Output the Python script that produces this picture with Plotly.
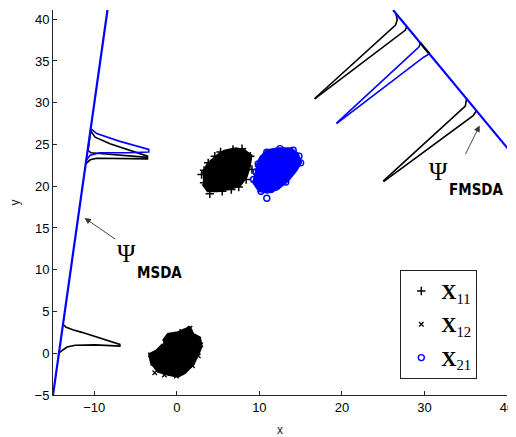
import plotly.graph_objects as go

# ---------------- data ----------------
# projection line of MSDA (left) and FMSDA (right)
msda_line_x = [-15.0, -8.4]
msda_line_y = [-5.0, 41.1]
fmsda_line_x = [26.2, 40.1]
fmsda_line_y = [41.1, 24.5]

# densities drawn along the MSDA line
msda_low_black_x = [-13.79, -13.4, -12.6, -11.5, -6.9, -6.9, -9.9, -12.3, -13.3, -13.9, -14.28]
msda_low_black_y = [3.47, 3.1, 2.8, 2.5, 1.06, 0.86, 1.0, 0.95, 0.74, 0.35, 0.06]
msda_up_black1_x = [-10.47, -9.9, -8.1, -3.55, -3.55, -9.7, -10.5, -11.04]
msda_up_black1_y = [26.67, 25.87, 25.08, 23.6, 23.28, 23.35, 23.16, 22.68]
msda_up_black2_x = [-10.40, -10.55, -10.75, -10.4, -7.0, -3.55]
msda_up_black2_y = [26.9, 25.6, 24.3, 24.0, 23.7, 23.45]
msda_up_blue_x = [-10.43, -10.0, -9.7, -7.0, -3.4, -3.4, -6.0, -9.3, -10.5, -10.97]
msda_up_blue_y = [26.9, 26.5, 26.3, 25.4, 24.4, 24.1, 24.0, 24.0, 23.7, 23.1]

# densities drawn along the FMSDA line
fmsda_black_a_x = [26.55, 26.7, 26.5, 16.7]
fmsda_black_a_y = [40.68, 39.9, 39.3, 30.5]
fmsda_black_b_x = [27.85, 27.7, 16.7]
fmsda_black_b_y = [39.13, 38.7, 30.45]
fmsda_black_seg_x = [29.5, 30.6]
fmsda_black_seg_y = [37.16, 35.85]
fmsda_blue_a_x = [29.5, 29.35, 19.35]
fmsda_blue_a_y = [37.16, 36.7, 27.55]
fmsda_blue_b_x = [30.6, 29.9, 19.35]
fmsda_blue_b_y = [35.85, 35.45, 27.5]
fmsda_black_c_x = [35.1, 34.95, 25.0]
fmsda_black_c_y = [30.47, 29.6, 20.6]
fmsda_black_d_x = [36.3, 35.9, 25.05]
fmsda_black_d_y = [29.04, 28.45, 20.55]

# sample clouds: outline of each dense cloud plus visible edge points
x11_x = [3.16, 3.76, 4.96, 5.76, 7.17, 8.17, 8.98, 8.77, 8.37, 7.57, 6.17, 4.96, 3.76, 3.16]
x11_y = [21.48, 22.68, 23.67, 24.19, 24.48, 24.27, 23.67, 22.27, 21.07, 20.07, 19.68, 19.47, 19.47, 20.28]
x11_pts_x = [3.0, 3.3, 4.0, 5.5, 6.6, 7.5, 8.4, 9.1, 8.9, 7.9, 6.8, 5.3, 3.8, 3.3, 4.6]
x11_pts_y = [21.4, 20.4, 19.1, 19.4, 19.6, 19.9, 20.8, 22.0, 23.6, 24.5, 24.4, 24.1, 22.8, 21.9, 23.6]

x12_x = [-1.66, -1.06, 0.14, 1.14, 1.54, 1.95, 2.75, 2.95, 2.55, 1.95, 0.94, 0.14, -1.06, -2.27, -3.07, -3.28, -2.47, -1.66]
x12_y = [1.46, 2.27, 2.46, 2.87, 3.06, 2.27, 1.86, 0.86, -0.13, -1.33, -2.34, -2.74, -2.53, -2.14, -1.14, -0.13, 0.26, 1.07]
x12_pts_x = [-2.67, -0.06, -1.5, 1.6, 2.9, 2.6, -3.2, -2.9, 0.6, 1.9]
x12_pts_y = [-2.34, -2.74, -2.6, 3.0, 1.0, -0.3, -0.2, -1.2, 2.6, -1.5]

x21_x = [9.58, 10.18, 10.99, 12.19, 13.8, 14.6, 15.0, 14.4, 13.4, 12.19, 10.99, 9.98, 9.18]
x21_y = [22.27, 23.47, 24.27, 24.48, 24.48, 23.88, 22.87, 21.87, 20.67, 19.68, 19.27, 19.47, 20.67]
x21_pts_x = [10.9, 15.0, 9.86, 10.9, 9.3, 9.6, 12.5, 14.1, 13.2, 11.4, 10.2, 14.8]
x21_pts_y = [18.55, 22.8, 22.68, 24.07, 20.8, 21.7, 24.5, 24.3, 20.5, 19.6, 19.4, 23.6]

legend_labels = ["<b>X</b><sub>11</sub>", "<b>X</b><sub>12</sub>", "<b>X</b><sub>21</sub>"]
x_ticks = [-10, 0, 10, 20, 30, 40]
y_ticks = [-5, 0, 5, 10, 15, 20, 25, 30, 35, 40]

BLUE = "#0000FF"
BLACK = "#000000"

fig = go.Figure()


def add_line(x, y, color, width=1.6):
    fig.add_trace(go.Scatter(x=x, y=y, mode="lines", line=dict(color=color, width=width),
                             showlegend=False, hoverinfo="skip"))


# clouds (filled outline + edge markers)
fig.add_trace(go.Scatter(x=x11_x, y=x11_y, mode="lines", fill="toself", fillcolor=BLACK,
                         line=dict(color=BLACK, width=3), showlegend=False, hoverinfo="skip"))
fig.add_trace(go.Scatter(x=x12_x, y=x12_y, mode="lines", fill="toself", fillcolor=BLACK,
                         line=dict(color=BLACK, width=3), showlegend=False, hoverinfo="skip"))
fig.add_trace(go.Scatter(x=x21_x, y=x21_y, mode="lines", fill="toself", fillcolor=BLUE,
                         line=dict(color=BLUE, width=3), showlegend=False, hoverinfo="skip"))

fig.add_trace(go.Scatter(x=x11_pts_x, y=x11_pts_y, mode="markers", name=legend_labels[0],
                         legendgroup="a",
                         marker=dict(symbol="cross-thin-open", size=6, color=BLACK,
                                     line=dict(color=BLACK, width=1.5))))
fig.add_trace(go.Scatter(x=x12_pts_x, y=x12_pts_y, mode="markers", name=legend_labels[1],
                         legendgroup="b",
                         marker=dict(symbol="x-thin-open", size=4.5, color=BLACK,
                                     line=dict(color=BLACK, width=1.3))))
fig.add_trace(go.Scatter(x=x21_pts_x, y=x21_pts_y, mode="markers", name=legend_labels[2],
                         legendgroup="c",
                         marker=dict(symbol="circle-open", size=6, color=BLUE,
                                     line=dict(color=BLUE, width=1.4))))

# densities
add_line(msda_low_black_x, msda_low_black_y, BLACK)
add_line(msda_up_black2_x, msda_up_black2_y, BLACK)
add_line(msda_up_black1_x, msda_up_black1_y, BLACK)
add_line(msda_up_blue_x, msda_up_blue_y, BLUE)
add_line(fmsda_black_a_x, fmsda_black_a_y, BLACK)
add_line(fmsda_black_b_x, fmsda_black_b_y, BLACK)
add_line(fmsda_blue_a_x, fmsda_blue_a_y, BLUE)
add_line(fmsda_blue_b_x, fmsda_blue_b_y, BLUE)
add_line(fmsda_black_c_x, fmsda_black_c_y, BLACK)
add_line(fmsda_black_d_x, fmsda_black_d_y, BLACK)

# projection lines
add_line(msda_line_x, msda_line_y, BLUE, 2.2)
add_line(fmsda_line_x, fmsda_line_y, BLUE, 2.2)
add_line(fmsda_black_seg_x, fmsda_black_seg_y, BLACK, 2.2)

# annotations
arrow_common = dict(xref="x", yref="y", axref="x", ayref="y", showarrow=True,
                    arrowhead=2, arrowsize=1.4, arrowwidth=0.9, arrowcolor="#333333", text="")
fig.add_annotation(x=-11.18, y=16.2, ax=-7.29, ay=13.55, **arrow_common)
fig.add_annotation(x=36.69, y=27.27, ax=34.88, ay=23.67, **arrow_common)

psi_font = dict(family="Liberation Serif, Times New Roman, serif", size=25, color=BLACK)
sub_font = dict(family="Liberation Sans Narrow, DejaVu Sans Condensed, Arial Narrow, sans-serif",
                size=15, color=BLACK)
fig.add_annotation(x=-6.08, y=11.9, xref="x", yref="y", text="Ψ", showarrow=False, font=psi_font)
fig.add_annotation(x=-2.1, y=9.55, xref="x", yref="y", text="<b>MSDA</b>", showarrow=False, font=sub_font)
fig.add_annotation(x=31.75, y=21.75, xref="x", yref="y", text="Ψ", showarrow=False, font=psi_font)
fig.add_annotation(x=36.3, y=19.6, xref="x", yref="y", text="<b>FMSDA</b>", showarrow=False, font=sub_font)

axis_common = dict(showgrid=False, zeroline=False, showline=True, linecolor="#262626", linewidth=1,
                   ticks="inside", ticklen=4, tickcolor="#262626", mirror=False,
                   tickfont=dict(family="Liberation Sans, Arial, sans-serif", size=13, color=BLACK))

# the page body adds an 8 px offset, so the figure is 8 px smaller on the left/top
fig.update_layout(
    width=508, height=429,
    margin=dict(l=43, r=8, t=2, b=42),
    plot_bgcolor="white", paper_bgcolor="white",
    xaxis=dict(range=[-15, 40], tickvals=x_ticks,
               title=dict(text="x", font=dict(family="Liberation Sans, Arial", size=12, color="#222"),
                          standoff=12),
               **axis_common),
    yaxis=dict(range=[-5, 41.1], tickvals=y_ticks,
               title=dict(text="y", font=dict(family="Liberation Sans, Arial", size=12, color="#222"),
                          standoff=16),
               **axis_common),
    legend=dict(x=0.765, y=0.042, xanchor="left", yanchor="bottom",
                bgcolor="white", bordercolor="#222222", borderwidth=1,
                font=dict(family="Liberation Serif, Times New Roman, serif", size=21, color=BLACK),
                tracegroupgap=3, itemsizing="trace"),
    showlegend=True,
)

fig.write_html("out.html")
